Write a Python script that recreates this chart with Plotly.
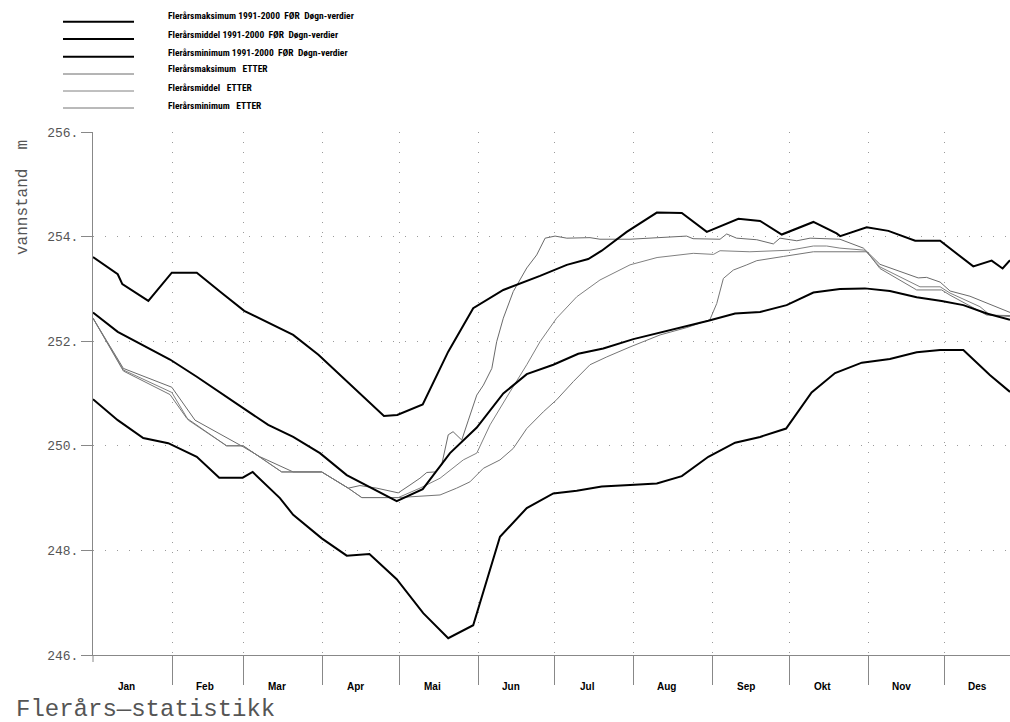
import plotly.graph_objects as go

# ---------------- data (day of year, water level in m) ----------------
months = ["Jan", "Feb", "Mar", "Apr", "Mai", "Jun", "Jul", "Aug", "Sep", "Okt", "Nov", "Des"]
month_start = [0, 31, 59, 90, 120, 151, 181, 212, 243, 273, 304, 334]
y_ticks = [246, 248, 250, 252, 254, 256]
y_ticktext = ["246.", "248.", "250.", "252.", "254.", "256."]

legend_names = [
    "Flerårsmaksimum 1991-2000  FØR  Døgn-verdier",
    "Flerårsmiddel 1991-2000  FØR  Døgn-verdier",
    "Flerårsminimum 1991-2000  FØR  Døgn-verdier",
    "Flerårsmaksimum   ETTER",
    "Flerårsmiddel   ETTER",
    "Flerårsminimum   ETTER",
]

max_for_day = [0, 9.7, 11.5, 21.7, 30.9, 40.7, 50.5, 59.3, 78.5, 88.4, 114.1, 119.3, 129.3, 139.3,
               149.1, 160.9, 175.3, 185.8, 194.2, 199.5, 209.3, 221.1, 230.9, 240.7, 253.1, 261.6,
               270.1, 282.5, 291.6, 293, 303.4, 311.9, 322.4, 332.2, 345.2, 352.4, 356.7, 359.6]
max_for_val = [253.61, 253.28, 253.09, 252.77, 253.31, 253.31, 252.92, 252.58, 252.12, 251.74,
               250.57, 250.59, 250.79, 251.80, 252.63, 252.98, 253.25, 253.46, 253.57, 253.73,
               254.09, 254.46, 254.45, 254.09, 254.34, 254.30, 254.04, 254.28, 254.06, 254.01,
               254.18, 254.11, 253.92, 253.92, 253.43, 253.54, 253.39, 253.55]

mean_for_day = [0, 9.7, 30.2, 40.7, 58.9, 68.7, 78.5, 89, 99.5, 108, 117.1, 119.1, 129.3, 140,
                150.5, 160.9, 170.1, 180.5, 190.3, 200.1, 211.9, 230.2, 241.3, 251.8, 261.6, 272,
                282.5, 292.9, 302.7, 312.5, 323, 332.8, 341.3, 350.5, 359.6]
mean_for_val = [252.55, 252.18, 251.65, 251.32, 250.72, 250.40, 250.17, 249.86, 249.44, 249.22,
                249.00, 248.94, 249.17, 249.86, 250.35, 251.00, 251.37, 251.55, 251.76, 251.86,
                252.04, 252.25, 252.39, 252.53, 252.56, 252.69, 252.93, 253.00, 253.01, 252.96,
                252.84, 252.77, 252.69, 252.53, 252.41]

min_for_day = [0, 9.7, 19.7, 29.5, 40.7, 49.5, 58.7, 62.6, 73.3, 78.5, 89.7, 99.5, 108.4, 119.1,
               129.5, 139.3, 149.1, 159.6, 170.1, 180.5, 189.7, 199.5, 210.6, 221.1, 230.9, 241.3,
               251.8, 261.6, 271.8, 281.8, 291, 301.5, 312.5, 323, 332.2, 341.3, 351.8, 359.6]
min_for_val = [250.89, 250.49, 250.15, 250.05, 249.79, 249.39, 249.39, 249.50, 249.00, 248.68,
               248.23, 247.90, 247.93, 247.45, 246.80, 246.32, 246.57, 248.26, 248.81, 249.09,
               249.14, 249.22, 249.25, 249.28, 249.42, 249.79, 250.06, 250.17, 250.33, 251.02,
               251.39, 251.59, 251.66, 251.79, 251.83, 251.83, 251.35, 251.03]

max_etter_day = [0, 11.9, 30.9, 40, 58.9, 65.5, 78.5, 89.7, 100.1, 104.7, 111.3, 119.7, 124.3,
                 128.2, 130.9, 134.1, 136.7, 139.3, 141.2, 144.6, 147.2, 150.5, 153.1, 156.4,
                 158.3, 160.9, 164.8, 170.1, 174, 177.3, 181.2, 185.8, 194.9, 198.8, 210.6, 232.8,
                 235.3, 245.9, 248.5, 252.4, 260.3, 266.8, 269.4, 276, 281.2, 292.9, 302.1, 308.6,
                 323.6, 326.9, 332.2, 336.1, 343.9, 359.6]
max_etter_val = [252.44, 251.48, 251.12, 250.49, 249.98, 249.79, 249.50, 249.50, 249.19, 249.24,
                 249.19, 249.10, 249.25, 249.38, 249.49, 249.50, 249.63, 250.21, 250.27, 250.11,
                 250.49, 250.97, 251.16, 251.48, 251.99, 252.44, 252.95, 253.40, 253.65, 253.97,
                 254.01, 253.97, 253.98, 253.95, 253.95, 254.01, 253.96, 253.95, 254.05, 253.97,
                 253.94, 253.86, 253.97, 253.92, 253.97, 253.95, 253.78, 253.47, 253.21, 253.22,
                 253.13, 252.96, 252.86, 252.55]

mean_etter_day = [0, 11.9, 30.9, 37.4, 52.4, 58.9, 74, 89.7, 100.1, 105.4, 119.7, 128.2, 136.1,
                  145.2, 150.5, 155.7, 163.5, 170.1, 175.3, 181.8, 189.7, 198.8, 210.6, 221.2,
                  235.4, 243.3, 245.9, 257.6, 273.3, 282.5, 287.7, 292.9, 302.7, 308.6, 324.3,
                  332.2, 336.1, 347.8, 351.8, 359.6]
mean_etter_val = [252.44, 251.45, 251.02, 250.49, 250.00, 250.00, 249.50, 249.50, 249.19, 249.01,
                  249.01, 249.19, 249.38, 249.73, 249.86, 250.40, 251.03, 251.55, 251.99, 252.44,
                  252.85, 253.17, 253.46, 253.60, 253.68, 253.66, 253.73, 253.71, 253.74, 253.82,
                  253.82, 253.78, 253.74, 253.42, 253.04, 253.04, 252.92, 252.66, 252.50, 252.47]

min_etter_day = [0, 11.9, 30.2, 36.7, 52.4, 58.9, 74, 89.7, 100.1, 105.4, 119.7, 128.2, 136.1,
                 142.6, 147.8, 153.1, 159.6, 164.8, 170.1, 176.6, 181.8, 188.4, 194.9, 201.5,
                 210.6, 222.4, 232.8, 241.9, 244.6, 247.2, 251.1, 256.4, 260.3, 270.7, 278.5,
                 282.5, 303.5, 308.6, 323, 332.8, 336.1, 350.5, 359.6]
min_etter_val = [252.44, 251.43, 250.98, 250.53, 250.00, 250.00, 249.50, 249.50, 249.19, 249.01,
                 249.01, 249.03, 249.06, 249.19, 249.31, 249.57, 249.73, 249.95, 250.33, 250.65,
                 250.88, 251.23, 251.55, 251.70, 251.89, 252.12, 252.26, 252.41, 252.72, 253.20,
                 253.36, 253.46, 253.54, 253.62, 253.68, 253.71, 253.71, 253.39, 252.98, 252.98,
                 252.88, 252.50, 252.49]

# ---------------- layout geometry helpers (pixel -> paper) ----------------
W, H = 1010, 722
L, R, T, B = 93, 0, 132, 67
PW, PH = W - L - R, H - T - B


def xp(px):
    return (px - L) / PW


def yp(py):
    return (H - B - py) / PH


THICK = dict(color="#000000", width=2)
gray_colors = ["#6a6a6a", "#808080", "#757575"]

fig = go.Figure()

etter = [(max_etter_day, max_etter_val), (mean_etter_day, mean_etter_val), (min_etter_day, min_etter_val)]
for i, (d, v) in enumerate(etter):
    fig.add_trace(go.Scatter(x=d, y=v, mode="lines", name=legend_names[3 + i],
                             line=dict(color=gray_colors[i], width=1), showlegend=False,
                             hoverinfo="skip"))

for i, (d, v) in enumerate([(max_for_day, max_for_val), (mean_for_day, mean_for_val),
                            (min_for_day, min_for_val)]):
    fig.add_trace(go.Scatter(x=d, y=v, mode="lines", name=legend_names[i],
                             line=THICK, showlegend=False, hoverinfo="skip"))

shapes = []
annotations = []

# manual legend
line_y = [21.7, 39, 56.7, 74, 91, 108]
text_y = [16, 34, 52, 69, 87, 105]
for i, name in enumerate(legend_names):
    if i < 3:
        ln = dict(color="#000000", width=2)
    else:
        ln = dict(color=gray_colors[i - 3], width=1)
    shapes.append(dict(type="line", xref="paper", yref="paper",
                       x0=xp(63), x1=xp(134), y0=yp(line_y[i]), y1=yp(line_y[i]), line=ln))
    annotations.append(dict(text="<b>" + name.replace("  ", "\u00a0\u00a0") + "</b>",
                            xref="paper", yref="paper", x=xp(166), y=yp(text_y[i]),
                            xanchor="left", yanchor="middle", showarrow=False,
                            font=dict(family="Liberation Sans Narrow, Arial Narrow, Roboto Condensed, sans-serif",
                                      size=9.5, color="#000000")))

# month labels
for m, s in zip(months, month_start):
    annotations.append(dict(text="<b>" + m + "</b>", xref="x", yref="paper", x=s + 13, y=yp(686),
                            xanchor="center", yanchor="middle", showarrow=False,
                            font=dict(family="Liberation Sans Narrow, Arial Narrow, sans-serif",
                                      size=10, color="#000000")))

# y axis title
annotations.append(dict(text="vannstand\u00a0\u00a0m", xref="paper", yref="paper",
                        x=xp(23), y=yp(198), textangle=-90, showarrow=False,
                        xanchor="center", yanchor="middle",
                        font=dict(family="Liberation Mono, DejaVu Sans Mono, monospace", size=16,
                                  color="#555555")))

# bottom-left caption
annotations.append(dict(text="Flerårs—statistikk", xref="paper", yref="paper",
                        x=xp(14), y=yp(709), xanchor="left", yanchor="middle", showarrow=False,
                        font=dict(family="Liberation Mono, DejaVu Sans Mono, monospace", size=24,
                                  color="#555555")))

# y axis line extension below the x axis
shapes.append(dict(type="line", xref="paper", yref="paper", x0=0, x1=0, y0=0, y1=yp(662),
                   line=dict(color="#888888", width=1)))

fig.update_layout(
    width=W, height=H, autosize=False,
    margin=dict(l=L, r=R, t=T, b=B, pad=0),
    paper_bgcolor="white", plot_bgcolor="white",
    showlegend=False,
    shapes=shapes, annotations=annotations,
    xaxis=dict(range=[0, 359.6], tickvals=month_start[1:], showticklabels=False,
               ticks="outside", ticklen=29, tickcolor="#888888", tickwidth=1,
               showline=True, linecolor="#888888", linewidth=1, mirror=False,
               showgrid=True, gridcolor="#9a9a9a", gridwidth=1, griddash="1px,9px",
               zeroline=False, fixedrange=True),
    yaxis=dict(range=[246, 256], tickvals=y_ticks, ticktext=y_ticktext,
               ticks="outside", ticklen=11, tickcolor="#888888", tickwidth=1,
               tickfont=dict(family="Liberation Mono, DejaVu Sans Mono, monospace", size=13,
                             color="#555555"),
               showline=True, linecolor="#888888", linewidth=1,
               showgrid=True, gridcolor="#9a9a9a", gridwidth=1, griddash="1px,11px",
               zeroline=False, fixedrange=True),
)

fig.write_html("out.html", config={"displayModeBar": False},
               post_script="document.body.style.margin='0';document.body.style.overflow='hidden';")
